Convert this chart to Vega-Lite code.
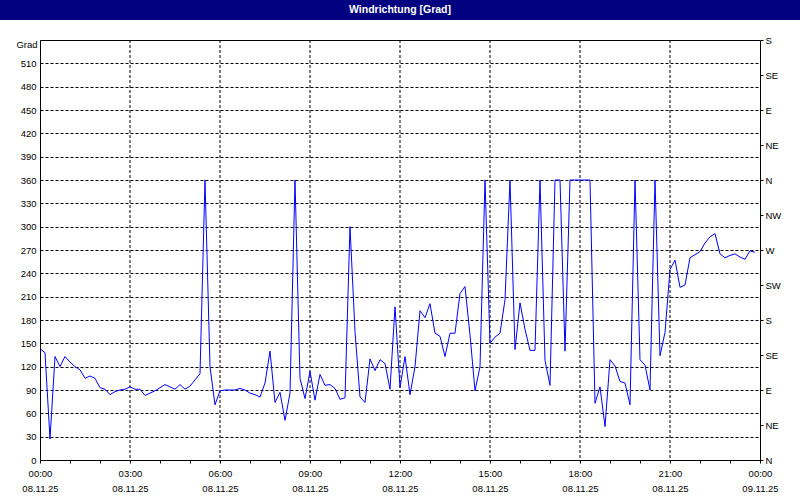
{
  "$schema": "https://vega.github.io/schema/vega-lite/v6.json",
  "padding": 0,
  "background": "white",
  "spacing": 20,
  "bounds": "flush",
  "center": true,
  "config": {
    "font": "Liberation Sans",
    "axis": {"labelFont": "Liberation Sans", "labelFontSize": 9.5, "labelColor": "#000000", "titleFont": "Liberation Sans", "titleColor": "#000000"}
  },
  "datasets": {
    "grid": [
      {"t":"2025-11-08T03:00Z"},{"t":"2025-11-08T06:00Z"},{"t":"2025-11-08T09:00Z"},{"t":"2025-11-08T12:00Z"},
      {"t":"2025-11-08T15:00Z"},{"t":"2025-11-08T18:00Z"},{"t":"2025-11-08T21:00Z"}
    ],
    "wind": [
      {"t":"2025-11-08T00:00Z","v":143},{"t":"2025-11-08T00:10Z","v":138},{"t":"2025-11-08T00:20Z","v":27},{"t":"2025-11-08T00:30Z","v":133},{"t":"2025-11-08T00:40Z","v":120},{"t":"2025-11-08T00:50Z","v":133},
      {"t":"2025-11-08T01:00Z","v":126},{"t":"2025-11-08T01:10Z","v":120},{"t":"2025-11-08T01:20Z","v":116},{"t":"2025-11-08T01:30Z","v":105},{"t":"2025-11-08T01:40Z","v":108},{"t":"2025-11-08T01:50Z","v":105},
      {"t":"2025-11-08T02:00Z","v":93},{"t":"2025-11-08T02:10Z","v":91},{"t":"2025-11-08T02:20Z","v":84},{"t":"2025-11-08T02:30Z","v":88},{"t":"2025-11-08T02:40Z","v":90},{"t":"2025-11-08T02:50Z","v":91},
      {"t":"2025-11-08T03:00Z","v":94},{"t":"2025-11-08T03:10Z","v":91},{"t":"2025-11-08T03:20Z","v":91},{"t":"2025-11-08T03:30Z","v":83},{"t":"2025-11-08T03:40Z","v":86},{"t":"2025-11-08T03:50Z","v":89},
      {"t":"2025-11-08T04:00Z","v":93},{"t":"2025-11-08T04:10Z","v":97},{"t":"2025-11-08T04:20Z","v":94},{"t":"2025-11-08T04:30Z","v":91},{"t":"2025-11-08T04:40Z","v":97},{"t":"2025-11-08T04:50Z","v":91},
      {"t":"2025-11-08T05:00Z","v":95},{"t":"2025-11-08T05:10Z","v":103},{"t":"2025-11-08T05:20Z","v":111},{"t":"2025-11-08T05:30Z","v":360},{"t":"2025-11-08T05:40Z","v":120},{"t":"2025-11-08T05:50Z","v":71},
      {"t":"2025-11-08T06:00Z","v":89},{"t":"2025-11-08T06:10Z","v":90},{"t":"2025-11-08T06:20Z","v":90},{"t":"2025-11-08T06:30Z","v":90},{"t":"2025-11-08T06:40Z","v":92},{"t":"2025-11-08T06:50Z","v":90},
      {"t":"2025-11-08T07:00Z","v":86},{"t":"2025-11-08T07:10Z","v":84},{"t":"2025-11-08T07:20Z","v":81},{"t":"2025-11-08T07:30Z","v":99},{"t":"2025-11-08T07:40Z","v":140},{"t":"2025-11-08T07:50Z","v":74},
      {"t":"2025-11-08T08:00Z","v":87},{"t":"2025-11-08T08:10Z","v":51},{"t":"2025-11-08T08:20Z","v":86},{"t":"2025-11-08T08:30Z","v":360},{"t":"2025-11-08T08:40Z","v":105},{"t":"2025-11-08T08:50Z","v":79},
      {"t":"2025-11-08T09:00Z","v":114},{"t":"2025-11-08T09:10Z","v":77},{"t":"2025-11-08T09:20Z","v":110},{"t":"2025-11-08T09:30Z","v":96},{"t":"2025-11-08T09:40Z","v":97},{"t":"2025-11-08T09:50Z","v":92},
      {"t":"2025-11-08T10:00Z","v":78},{"t":"2025-11-08T10:10Z","v":80},{"t":"2025-11-08T10:20Z","v":300},{"t":"2025-11-08T10:30Z","v":165},{"t":"2025-11-08T10:40Z","v":81},{"t":"2025-11-08T10:50Z","v":74},
      {"t":"2025-11-08T11:00Z","v":130},{"t":"2025-11-08T11:10Z","v":115},{"t":"2025-11-08T11:20Z","v":129},{"t":"2025-11-08T11:30Z","v":124},{"t":"2025-11-08T11:40Z","v":91},{"t":"2025-11-08T11:50Z","v":197},
      {"t":"2025-11-08T12:00Z","v":93},{"t":"2025-11-08T12:10Z","v":133},{"t":"2025-11-08T12:20Z","v":84},{"t":"2025-11-08T12:30Z","v":120},{"t":"2025-11-08T12:40Z","v":192},{"t":"2025-11-08T12:50Z","v":183},
      {"t":"2025-11-08T13:00Z","v":201},{"t":"2025-11-08T13:10Z","v":163},{"t":"2025-11-08T13:20Z","v":159},{"t":"2025-11-08T13:30Z","v":133},{"t":"2025-11-08T13:40Z","v":163},{"t":"2025-11-08T13:50Z","v":163},
      {"t":"2025-11-08T14:00Z","v":214},{"t":"2025-11-08T14:10Z","v":223},{"t":"2025-11-08T14:20Z","v":161},{"t":"2025-11-08T14:30Z","v":89},{"t":"2025-11-08T14:40Z","v":120},{"t":"2025-11-08T14:50Z","v":360},
      {"t":"2025-11-08T15:00Z","v":150},{"t":"2025-11-08T15:10Z","v":158},{"t":"2025-11-08T15:20Z","v":163},{"t":"2025-11-08T15:30Z","v":206},{"t":"2025-11-08T15:40Z","v":360},{"t":"2025-11-08T15:50Z","v":142},
      {"t":"2025-11-08T16:00Z","v":202},{"t":"2025-11-08T16:10Z","v":168},{"t":"2025-11-08T16:20Z","v":141},{"t":"2025-11-08T16:30Z","v":141},{"t":"2025-11-08T16:40Z","v":360},{"t":"2025-11-08T16:50Z","v":128},
      {"t":"2025-11-08T17:00Z","v":96},{"t":"2025-11-08T17:10Z","v":360},{"t":"2025-11-08T17:20Z","v":360},{"t":"2025-11-08T17:30Z","v":140},{"t":"2025-11-08T17:40Z","v":360},{"t":"2025-11-08T17:50Z","v":360},
      {"t":"2025-11-08T18:00Z","v":360},{"t":"2025-11-08T18:10Z","v":360},{"t":"2025-11-08T18:20Z","v":360},{"t":"2025-11-08T18:30Z","v":73},{"t":"2025-11-08T18:40Z","v":94},{"t":"2025-11-08T18:50Z","v":43},
      {"t":"2025-11-08T19:00Z","v":129},{"t":"2025-11-08T19:10Z","v":121},{"t":"2025-11-08T19:20Z","v":101},{"t":"2025-11-08T19:30Z","v":99},{"t":"2025-11-08T19:40Z","v":71},{"t":"2025-11-08T19:50Z","v":360},
      {"t":"2025-11-08T20:00Z","v":129},{"t":"2025-11-08T20:10Z","v":122},{"t":"2025-11-08T20:20Z","v":90},{"t":"2025-11-08T20:30Z","v":360},{"t":"2025-11-08T20:40Z","v":134},{"t":"2025-11-08T20:50Z","v":164},
      {"t":"2025-11-08T21:00Z","v":245},{"t":"2025-11-08T21:10Z","v":257},{"t":"2025-11-08T21:20Z","v":222},{"t":"2025-11-08T21:30Z","v":225},{"t":"2025-11-08T21:40Z","v":260},{"t":"2025-11-08T21:50Z","v":264},
      {"t":"2025-11-08T22:00Z","v":268},{"t":"2025-11-08T22:10Z","v":279},{"t":"2025-11-08T22:20Z","v":287},{"t":"2025-11-08T22:30Z","v":291},{"t":"2025-11-08T22:40Z","v":265},{"t":"2025-11-08T22:50Z","v":260},
      {"t":"2025-11-08T23:00Z","v":263},{"t":"2025-11-08T23:10Z","v":265},{"t":"2025-11-08T23:20Z","v":261},{"t":"2025-11-08T23:30Z","v":258},{"t":"2025-11-08T23:40Z","v":269},{"t":"2025-11-08T23:50Z","v":267}
    ]
  },
  "vconcat": [
    {
      "width": 800,
      "height": 20,
      "view": {"fill": "#000080", "stroke": null},
      "data": {"values": [{"label": "Windrichtung [Grad]"}]},
      "mark": {"type": "text", "color": "white", "fontWeight": "bold", "fontSize": 10.5, "font": "Liberation Sans", "baseline": "middle", "align": "center"},
      "encoding": {"text": {"field": "label", "type": "nominal"}}
    },
    {
      "width": 720,
      "height": 420,
      "view": {"stroke": null},
      "resolve": {"axis": {"x": "independent", "y": "independent"}},
      "layer": [
        {
          "data": {"name": "grid"},
          "mark": {"type": "rule", "color": "#000000", "strokeWidth": 1, "strokeDash": [3, 2]},
          "encoding": {
            "x": {"field": "t", "type": "temporal", "axis": null,
                  "scale": {"type": "utc", "domain": [{"year": 2025, "month": 11, "date": 8, "hours": 0, "utc": true}, {"year": 2025, "month": 11, "date": 9, "hours": 0, "utc": true}], "nice": false}}
          }
        },
        {
          "data": {"name": "wind"},
          "mark": {"type": "line", "color": "#0000FF", "strokeWidth": 1},
          "encoding": {
            "x": {
              "field": "t", "type": "temporal",
              "axis": {
                "orient": "bottom", "title": null,
                "values": [
                  {"year": 2025, "month": 11, "date": 8, "hours": 0, "utc": true},{"year": 2025, "month": 11, "date": 8, "hours": 1, "utc": true},{"year": 2025, "month": 11, "date": 8, "hours": 2, "utc": true},
                  {"year": 2025, "month": 11, "date": 8, "hours": 3, "utc": true},{"year": 2025, "month": 11, "date": 8, "hours": 4, "utc": true},{"year": 2025, "month": 11, "date": 8, "hours": 5, "utc": true},
                  {"year": 2025, "month": 11, "date": 8, "hours": 6, "utc": true},{"year": 2025, "month": 11, "date": 8, "hours": 7, "utc": true},{"year": 2025, "month": 11, "date": 8, "hours": 8, "utc": true},
                  {"year": 2025, "month": 11, "date": 8, "hours": 9, "utc": true},{"year": 2025, "month": 11, "date": 8, "hours": 10, "utc": true},{"year": 2025, "month": 11, "date": 8, "hours": 11, "utc": true},
                  {"year": 2025, "month": 11, "date": 8, "hours": 12, "utc": true},{"year": 2025, "month": 11, "date": 8, "hours": 13, "utc": true},{"year": 2025, "month": 11, "date": 8, "hours": 14, "utc": true},
                  {"year": 2025, "month": 11, "date": 8, "hours": 15, "utc": true},{"year": 2025, "month": 11, "date": 8, "hours": 16, "utc": true},{"year": 2025, "month": 11, "date": 8, "hours": 17, "utc": true},
                  {"year": 2025, "month": 11, "date": 8, "hours": 18, "utc": true},{"year": 2025, "month": 11, "date": 8, "hours": 19, "utc": true},{"year": 2025, "month": 11, "date": 8, "hours": 20, "utc": true},
                  {"year": 2025, "month": 11, "date": 8, "hours": 21, "utc": true},{"year": 2025, "month": 11, "date": 8, "hours": 22, "utc": true},{"year": 2025, "month": 11, "date": 8, "hours": 23, "utc": true},
                  {"year": 2025, "month": 11, "date": 9, "hours": 0, "utc": true}
                ],
                "format": "%H:%M",
                "labelExpr": "(round(datum.value / 3600000) % 3 == 0) ? datum.label : ''",
                "domain": true, "domainColor": "#000000",
                "ticks": true, "tickSize": 3, "tickColor": "#000000",
                "grid": false,
                "labelOverlap": false, "labelFlush": false, "labelPadding": 5,
                "labelBaseline": "top", "labelAlign": "center", "labelAngle": 0
              }
            },
            "y": {
              "field": "v", "type": "quantitative",
              "scale": {"domain": [0, 540], "nice": false},
              "axis": {
                "orient": "left",
                "values": [0, 30, 60, 90, 120, 150, 180, 210, 240, 270, 300, 330, 360, 390, 420, 450, 480, 510, 540],
                "labelExpr": "datum.value == 540 ? '' : datum.label",
                "domain": true, "domainColor": "#000000",
                "ticks": false, "labelPadding": 4,
                "grid": true, "gridColor": "#000000", "gridDash": [3, 2],
                "title": "Grad", "titleAngle": 0, "titleAlign": "right", "titleBaseline": "middle",
                "titleX": -3, "titleY": 4, "titleFontSize": 9.5, "titleFontWeight": "normal"
              }
            }
          }
        },
        {
          "data": {"name": "wind"},
          "mark": {"type": "point", "opacity": 0},
          "encoding": {
            "x": {
              "field": "t", "type": "temporal",
              "axis": {"orient": "top", "title": null, "labels": false, "ticks": false, "grid": false, "domain": true, "domainColor": "#000000"}
            },
            "y": {
              "field": "v", "type": "quantitative",
              "axis": {
                "orient": "right", "title": null,
                "values": [0, 45, 90, 135, 180, 225, 270, 315, 360, 405, 450, 495, 540],
                "labelExpr": "['N','NE','E','SE','S','SW','W','NW'][round(datum.value / 45) % 8]",
                "domain": true, "domainColor": "#000000",
                "ticks": true, "tickSize": 3, "tickColor": "#000000",
                "labelPadding": 2, "grid": false
              }
            }
          }
        },
        {
          "data": {"name": "wind"},
          "mark": {"type": "point", "opacity": 0},
          "encoding": {
            "x": {
              "field": "t", "type": "temporal",
              "axis": {
                "orient": "bottom", "title": null,
                "values": [
                  {"year": 2025, "month": 11, "date": 8, "hours": 0, "utc": true},{"year": 2025, "month": 11, "date": 8, "hours": 3, "utc": true},{"year": 2025, "month": 11, "date": 8, "hours": 6, "utc": true},
                  {"year": 2025, "month": 11, "date": 8, "hours": 9, "utc": true},{"year": 2025, "month": 11, "date": 8, "hours": 12, "utc": true},{"year": 2025, "month": 11, "date": 8, "hours": 15, "utc": true},
                  {"year": 2025, "month": 11, "date": 8, "hours": 18, "utc": true},{"year": 2025, "month": 11, "date": 8, "hours": 21, "utc": true},{"year": 2025, "month": 11, "date": 9, "hours": 0, "utc": true}
                ],
                "format": "%d.%m.%y",
                "domain": false, "ticks": false, "tickSize": 0, "grid": false,
                "labelOverlap": false, "labelFlush": false, "labelPadding": 23,
                "labelBaseline": "top", "labelAlign": "center", "labelAngle": 0
              }
            },
            "y": {"field": "v", "type": "quantitative", "axis": null}
          }
        }
      ]
    }
  ]
}
